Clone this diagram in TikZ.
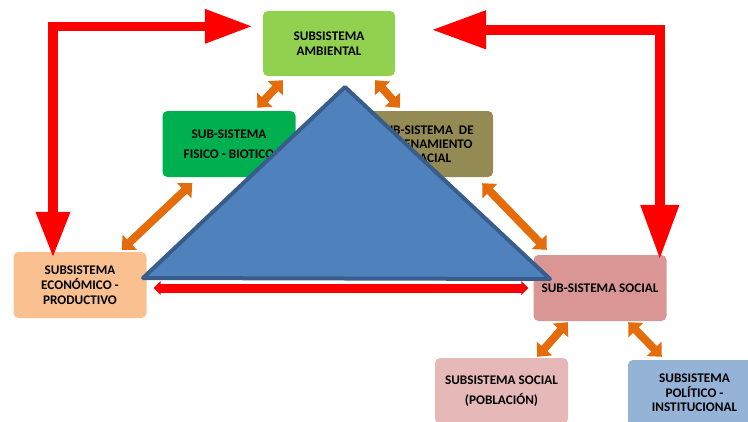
\documentclass[tikz,border=0pt]{standalone}
\usepackage{fontspec}
\setmainfont{Carlito}
\usetikzlibrary{arrows.meta,calc}
\definecolor{cred}{HTML}{FF0000}
\definecolor{corange}{HTML}{E46C0A}
\definecolor{tfill}{HTML}{4F81BD}
\definecolor{tline}{HTML}{385D8A}
\definecolor{camb}{HTML}{92D050}
\definecolor{cfis}{HTML}{00B050}
\definecolor{cord}{HTML}{948A54}
\definecolor{ceco}{HTML}{FAC090}
\definecolor{csoc}{HTML}{D99694}
\definecolor{cpob}{HTML}{E6B9B8}
\definecolor{cpol}{HTML}{95B3D7}
\tikzset{
  sysbox/.style={rectangle, rounded corners=5pt, minimum width=133pt, minimum height=66pt,
    inner sep=0pt, align=center, font=\bfseries\fontsize{13.2}{15}\selectfont},
  orarrow/.style={draw=corange, line width=8pt,
    {Triangle[length=11pt,width=20pt]}-{Triangle[length=11pt,width=20pt]}},
  redL/.style={draw=cred, line width=9.5pt,
    {Triangle[length=48pt,width=32pt]}-{Triangle[length=46pt,width=32pt]}},
  redR/.style={draw=cred, line width=10.5pt,
    {Triangle[length=55pt,width=36pt]}-{Triangle[length=55pt,width=36pt]}},
  redbar/.style={draw=cred, line width=9pt,
    {Triangle[length=7pt,width=14pt]}-{Triangle[length=7pt,width=14pt]}}
}
\begin{document}
\begin{tikzpicture}[x=1pt,y=-1pt]
\useasboundingbox (0,0) rectangle (748,421);
\clip (0,0) rectangle (748,421);
% boxes
\node[sysbox, fill=camb, minimum width=132pt, minimum height=65pt] (amb) at (329,43.5) {SUBSISTEMA\\AMBIENTAL};
\node[sysbox, fill=cfis, font=\bfseries\fontsize{13.2}{20}\selectfont] (fis) at (229,144) {SUB-SISTEMA\\FISICO - BIOTICO};
\node[sysbox, fill=cord, minimum width=134pt, font=\bfseries\fontsize{13.2}{14}\selectfont] (ord) at (426,144) {SUB-SISTEMA~~DE\\ORDENAMIENTO\\ESPACIAL};
\node[sysbox, fill=ceco] (eco) at (80,285) {SUBSISTEMA\\ECONÓMICO -\\PRODUCTIVO};
\node[sysbox, fill=csoc] (soc) at (600,288) {SUB-SISTEMA SOCIAL};
\node[sysbox, fill=cpob, font=\bfseries\fontsize{13.2}{20}\selectfont] (pob) at (501.5,391) {SUBSISTEMA SOCIAL\\(POBLACIÓN)};
\node[sysbox, fill=cpol, font=\bfseries\fontsize{13.2}{14.5}\selectfont] (pol) at (694.5,393) {SUBSISTEMA\\POLÍTICO -\\INSTITUCIONAL};
% big red elbow arrows
\coordinate (la) at ([xshift=-10pt,yshift=-15.5pt]amb.north west);
\coordinate (lb) at ([xshift=-27pt,yshift=-6pt]eco.north);
\draw[redL] (la) -| (lb);
\coordinate (ra) at ([xshift=36pt,yshift=-19pt]amb.north east);
\coordinate (rb) at ([xshift=126.5pt,yshift=-5pt]soc.north west);
\draw[redR] (ra) -| (rb);
% orange double arrows
\coordinate (o1a) at ([xshift=20pt,yshift=-4pt]amb.south west);
\coordinate (o1b) at ([xshift=95pt,yshift=3pt]fis.north west);
\draw[orarrow] (o1a) -- (o1b);
\coordinate (o2a) at ([xshift=-20pt,yshift=-4pt]amb.south east);
\coordinate (o2b) at ([xshift=41pt,yshift=3pt]ord.north west);
\draw[orarrow] (o2a) -- (o2b);
\coordinate (o3a) at ([xshift=30pt,yshift=-6pt]fis.south west);
\coordinate (o3b) at ([xshift=-25pt,yshift=2pt]eco.north east);
\draw[orarrow] (o3a) -- (o3b);
\coordinate (o4a) at ([xshift=-11pt,yshift=-6pt]ord.south east);
\coordinate (o4b) at ([xshift=13.5pt,yshift=5pt]soc.north west);
\draw[orarrow] (o4a) -- (o4b);
\coordinate (o5a) at ([xshift=34.5pt,yshift=-1pt]soc.south west);
\coordinate (o5b) at ([xshift=-31pt,yshift=1pt]pob.north east);
\draw[orarrow] (o5a) -- (o5b);
\coordinate (o6a) at ([xshift=-38.5pt,yshift=-1pt]soc.south east);
\coordinate (o6b) at ([xshift=34pt,yshift=3pt]pol.north west);
\draw[orarrow] (o6a) -- (o6b);
% red bar under triangle
\coordinate (ba) at ([xshift=7pt,yshift=-3pt]eco.east);
\coordinate (bb) at ([xshift=-5pt]soc.west);
\draw[redbar] (ba) -- (bb);
% triangle
\draw[fill=tfill, draw=tline, line width=4pt, line join=round] (345,87) coordinate (tapex) -- (143,278) coordinate (tleft) -- (550,279) coordinate (tright) -- cycle;
\end{tikzpicture}
\end{document}
